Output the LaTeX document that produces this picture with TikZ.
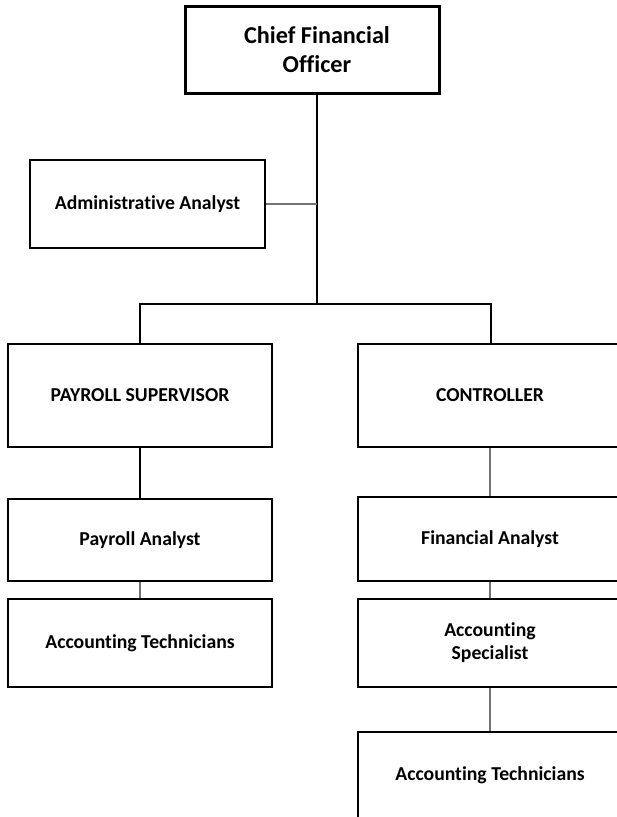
\documentclass[tikz,border=0pt]{standalone}
\usepackage{fontspec}
\setmainfont[Ligatures=NoCommon]{Carlito}
\begin{document}
\begin{tikzpicture}[x=1pt,y=-1pt,
  box/.style={draw=black,line width=1.4pt,fill=white,inner sep=2pt,align=center,
    font=\bfseries\fontsize{19.7}{23}\selectfont},
  topbox/.style={box,line width=3pt,font=\bfseries\fontsize{24.2}{29}\selectfont},
  strong/.style={draw=black,line width=2.6pt},
  weak/.style={draw=black!55,line width=1.1pt}]
\useasboundingbox (0,0) rectangle (617,817);
\clip (0,0) rectangle (617,817);
\fill[white] (0,0) rectangle (617,817);
\node[topbox,minimum width=254pt,minimum height=87pt] (cfo) at (312,49.5) {\hspace*{10pt}Chief Financial\\\hspace*{10pt}Officer};
\node[box,minimum width=235pt,minimum height=88pt] (admin) at (147.5,204) {Administrative Analyst};
\node[box,minimum width=264pt,minimum height=103pt] (paysup) at (140,395.5) {PAYROLL SUPERVISOR};
\node[box,minimum width=264pt,minimum height=103pt] (ctrl) at (490,395.5) {CONTROLLER};
\node[box,minimum width=264pt,minimum height=82pt] (payan) at (140,540) {Payroll Analyst};
\node[box,minimum width=264pt,minimum height=88pt] (techl) at (140,643) {Accounting Technicians};
\node[box,minimum width=264pt,minimum height=84pt] (finan) at (490,539) {Financial Analyst};
\node[box,minimum width=264pt,minimum height=88pt] (spec) at (490,643) {Accounting\\Specialist};
\node[box,minimum width=264pt,minimum height=86pt] (techr) at (490,775) {Accounting Technicians};
\coordinate (bus) at (317,304);
\coordinate (busl) at (140,304);
\coordinate (busr) at (491,304);
\draw[strong] (bus |- cfo.south) -- (bus);
\draw[strong,line cap=rect] (busl) -- (busr);
\draw[strong] (busl) -- (busl |- paysup.north);
\draw[strong] (busr) -- (busr |- ctrl.north);
\draw[weak] (admin.east) -- (bus |- admin.east);
\draw[strong] (paysup.south) -- (payan.north);
\draw[weak] (payan.south) -- (techl.north);
\draw[weak] (ctrl.south) -- (finan.north);
\draw[weak] (finan.south) -- (spec.north);
\draw[weak] (spec.south) -- (techr.north);
\end{tikzpicture}
\end{document}
